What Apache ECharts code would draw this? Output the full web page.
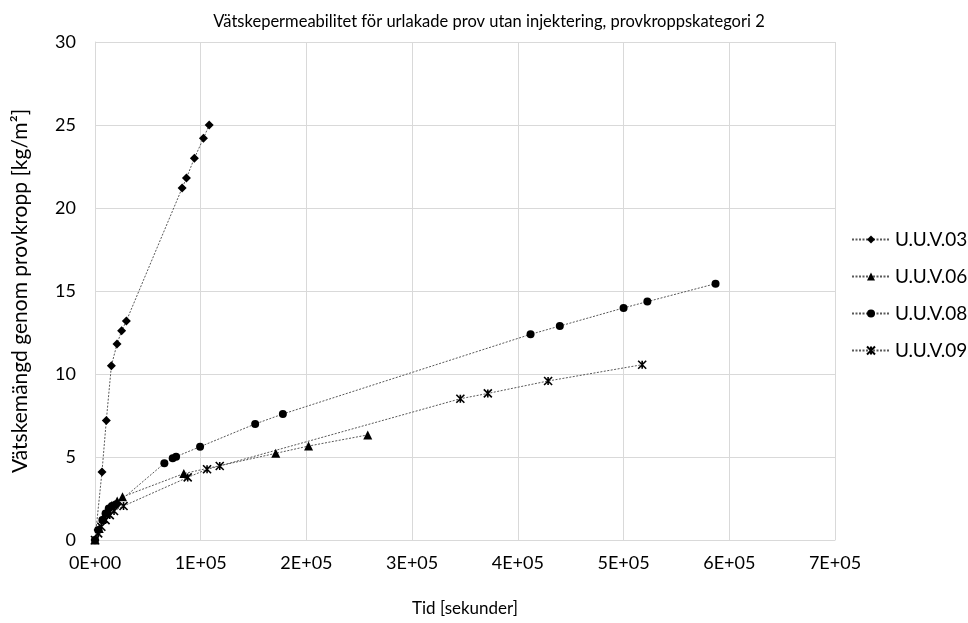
<!DOCTYPE html>
<html>
<head>
<meta charset="utf-8">
<script src="https://cdn.jsdelivr.net/npm/echarts@6/dist/echarts.min.js"></script>
<style>
  html, body { margin: 0; padding: 0; background: #fff; }
  #chart { width: 968px; height: 623px; }
</style>
</head>
<body>
<div id="chart"></div>
<script>
// Time [s] and cumulative liquid passed [kg/m²] for each specimen
const seriesNames = ['U.U.V.03', 'U.U.V.06', 'U.U.V.08', 'U.U.V.09'];

const t03 = [0, 6600, 10700, 15500, 20800, 25200, 29700, 82400, 86500, 94000, 102600, 108000];
const v03 = [0, 4.1, 7.2, 10.5, 11.8, 12.6, 13.2, 21.2, 21.8, 23.0, 24.2, 25.0];

const t06 = [0, 4000, 8000, 12000, 16000, 21000, 26000, 84000, 171000, 202000, 258000];
const v06 = [0, 0.7, 1.3, 1.8, 2.1, 2.35, 2.6, 4.0, 5.22, 5.66, 6.33];

const t08 = [0, 3000, 7000, 10000, 13000, 16000, 20000, 65600, 73500, 76700, 99400, 151500, 177700, 412000, 439700, 500000, 522500, 587000];
const v08 = [0, 0.6, 1.2, 1.6, 1.9, 2.05, 2.15, 4.62, 4.92, 5.02, 5.62, 6.99, 7.59, 12.39, 12.89, 13.98, 14.36, 15.44];

const t09 = [0, 3000, 6000, 10000, 14000, 18000, 27000, 87700, 106000, 118000, 345600, 371600, 428600, 517600];
const v09 = [0, 0.4, 0.8, 1.2, 1.5, 1.75, 2.05, 3.77, 4.26, 4.46, 8.51, 8.83, 9.58, 10.56];

const xTicks = ['0E+00', '1E+05', '2E+05', '3E+05', '4E+05', '5E+05', '6E+05', '7E+05'];

const pairs = (t, v) => t.map((x, i) => [x, v[i]]);

const FONT = 'Lato';
const lineStyle = { color: '#595959', width: 1, type: [2, 1.5] };

// asterisk marker: X with a vertical stroke
const starPath = 'path://M0,0L10,10M10,0L0,10M5,0L5,10';

function mk(name, data, symbol, size, extra) {
  return Object.assign({
    name: name,
    type: 'line',
    data: data,
    symbol: symbol,
    symbolSize: size,
    lineStyle: lineStyle,
    itemStyle: { color: '#000' },
    emphasis: { disabled: true },
    animation: false
  }, extra || {});
}

const chart = echarts.init(document.getElementById('chart'), null, { renderer: 'canvas' });
chart.setOption({
  backgroundColor: '#fff',
  title: {
    text: 'Vätskepermeabilitet för urlakade prov utan injektering, provkroppskategori 2',
    left: 484, top: 8, textAlign: 'center',
    textStyle: { fontFamily: FONT, fontSize: 16.5, fontWeight: 'normal', color: '#000' }
  },
  legend: {
    orient: 'vertical',
    left: 846, top: 225,
    itemGap: 18,
    itemWidth: 38, itemHeight: 10,
    textStyle: { fontFamily: FONT, fontSize: 19, color: '#000' },
    data: seriesNames
  },
  grid: { left: 95, right: 133, top: 42, bottom: 83 },
  xAxis: {
    type: 'value', min: 0, max: 700000, interval: 100000,
    name: 'Tid [sekunder]', nameLocation: 'middle', nameGap: 60,
    nameTextStyle: { fontFamily: FONT, fontSize: 17, color: '#000' },
    axisLine: { show: true, lineStyle: { color: '#d9d9d9' } },
    axisTick: { show: false },
    splitLine: { show: true, lineStyle: { color: '#d9d9d9', width: 1 } },
    axisLabel: {
      fontFamily: FONT, fontSize: 18, color: '#000', margin: 14,
      formatter: v => xTicks[Math.round(v / 100000)]
    }
  },
  yAxis: {
    type: 'value', min: 0, max: 30, interval: 5,
    name: 'Vätskemängd genom provkropp [kg/m²]', nameLocation: 'middle', nameGap: 64,
    nameTextStyle: { fontFamily: FONT, fontSize: 21, color: '#000' },
    axisLine: { show: true, lineStyle: { color: '#d9d9d9' } },
    axisTick: { show: false },
    splitLine: { show: true, lineStyle: { color: '#d9d9d9', width: 1 } },
    axisLabel: { fontFamily: FONT, fontSize: 18, color: '#000', margin: 19 }
  },
  series: [
    mk('U.U.V.03', pairs(t03, v03), 'diamond', 9),
    mk('U.U.V.06', pairs(t06, v06), 'triangle', 9),
    mk('U.U.V.08', pairs(t08, v08), 'circle', 8),
    mk('U.U.V.09', pairs(t09, v09), starPath, 8, {
      itemStyle: { color: 'rgba(0,0,0,0)', borderColor: '#000', borderWidth: 1.6 }
    })
  ]
});
</script>
</body>
</html>
